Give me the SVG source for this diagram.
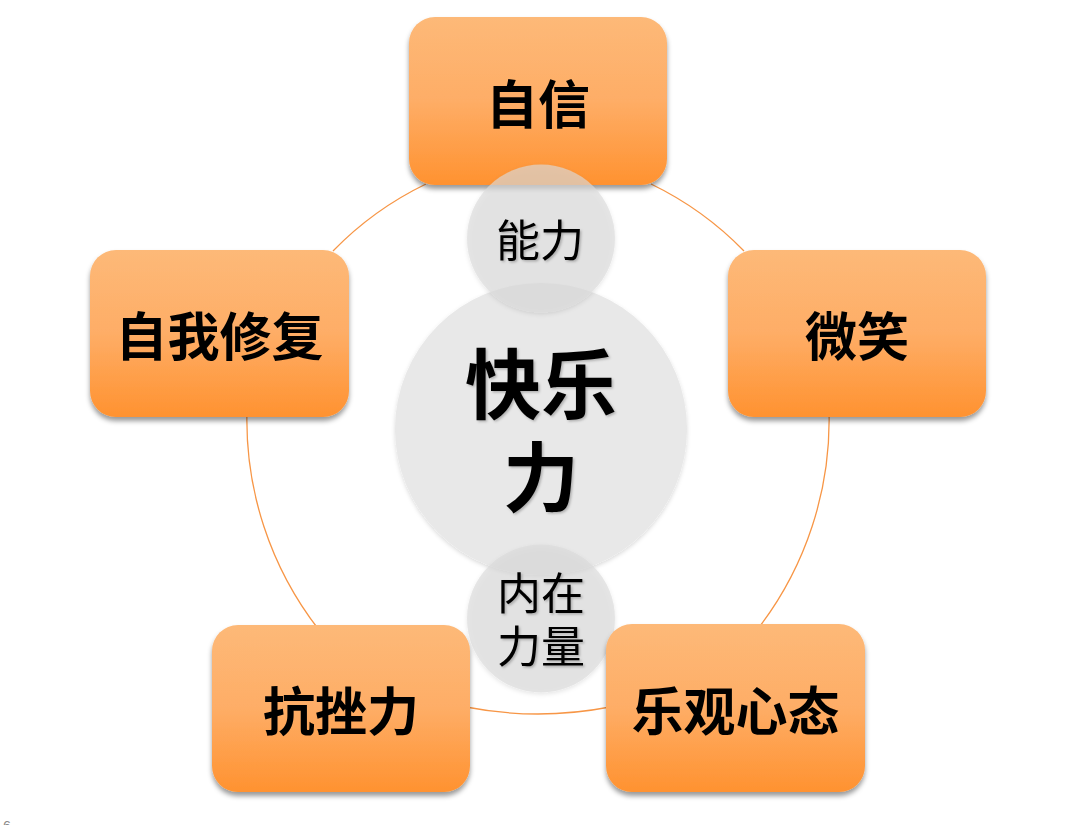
<svg xmlns="http://www.w3.org/2000/svg" width="1067" height="825" viewBox="0 0 1067 825">
  <defs>
    <linearGradient id="boxGrad" x1="0" y1="0" x2="0" y2="1">
      <stop offset="0" stop-color="#FDB978"/>
      <stop offset="0.5" stop-color="#FEAD66"/>
      <stop offset="1" stop-color="#FF9230"/>
    </linearGradient>
    <filter id="boxShadow" x="-10%" y="-10%" width="120%" height="130%">
      <feDropShadow dx="0" dy="4" stdDeviation="2.5" flood-color="#000" flood-opacity="0.4"/>
    </filter>
    <filter id="circShadow" x="-10%" y="-10%" width="120%" height="130%">
      <feDropShadow dx="0" dy="2" stdDeviation="2" flood-color="#000" flood-opacity="0.15"/>
    </filter>
    <filter id="txtShadow" x="-10%" y="-10%" width="130%" height="130%">
      <feDropShadow dx="1.5" dy="1.5" stdDeviation="1" flood-color="#000" flood-opacity="0.25"/>
    </filter>
  </defs>
  <style>
    .box { fill: url(#boxGrad); filter: url(#boxShadow); }
    .boxText { font-family: "Noto Sans CJK SC", "Noto Sans", sans-serif; font-weight: 700; font-size: 52px; fill: #000; text-anchor: middle; dominant-baseline: central; }
    .ring { fill: none; stroke: #F79646; stroke-width: 1.3; }
    .bigCircle { fill: #E8E8E8; filter: url(#circShadow); }
    .smallCircle { fill: #DADADA; fill-opacity: 0.65; filter: url(#circShadow); }
    .bigText { font-family: "Noto Sans CJK SC", "Noto Sans", sans-serif; font-weight: 700; font-size: 76px; fill: #000; text-anchor: middle; dominant-baseline: central; filter: url(#txtShadow); }
    .smallText { font-family: "Noto Sans CJK SC", "Noto Sans", sans-serif; font-weight: 400; font-size: 44px; fill: #000; text-anchor: middle; dominant-baseline: central; filter: url(#txtShadow); }
  </style>
  <rect width="1067" height="825" fill="#FFFFFF"/>

  <g id="connectors">
    <path class="ring" d="M 333 251 A 330 330 0 0 1 426 184"/>
    <path class="ring" d="M 651 184 A 330 330 0 0 1 744 251"/>
    <path class="ring" d="M 829 410 A 342 342 0 0 1 757 630"/>
    <path class="ring" d="M 610 707 A 377 377 0 0 1 466 707"/>
    <path class="ring" d="M 319 630 A 342 342 0 0 1 247 410"/>
  </g>

  <g id="center">
    <circle class="bigCircle" cx="541" cy="429" r="146"/>
    <text class="bigText"><tspan x="541" y="380">快乐</tspan><tspan x="541" y="473">力</tspan></text>
  </g>

  <g id="inner-strength">
    <circle class="smallCircle" cx="541" cy="618.5" r="74"/>
    <text class="smallText"><tspan x="541" y="591">内在</tspan><tspan x="541" y="644">力量</tspan></text>
  </g>

  <g id="node-confidence">
    <rect class="box" x="409" y="17" width="258" height="168" rx="26"/>
    <text class="boxText" x="538" y="101">自信</text>
  </g>

  <g id="node-smile">
    <rect class="box" x="728" y="250" width="258" height="167" rx="26"/>
    <text class="boxText" x="857" y="333.5">微笑</text>
  </g>

  <g id="node-self-repair">
    <rect class="box" x="90" y="250" width="259" height="167" rx="26"/>
    <text class="boxText" x="219.5" y="333.5">自我修复</text>
  </g>

  <g id="node-resilience">
    <rect class="box" x="212" y="625" width="258" height="167" rx="26"/>
    <text class="boxText" x="341" y="708">抗挫力</text>
  </g>

  <g id="node-optimism">
    <rect class="box" x="606" y="624" width="259" height="168" rx="26"/>
    <text class="boxText" x="735.5" y="708">乐观心态</text>
  </g>

  <g id="ability">
    <circle class="smallCircle" cx="541" cy="238.5" r="74"/>
    <text class="smallText" x="540" y="238">能力</text>
  </g>

  <text x="3" y="831" font-family="Liberation Sans, sans-serif" font-size="14" fill="#8A8A8A">6</text>
</svg>
